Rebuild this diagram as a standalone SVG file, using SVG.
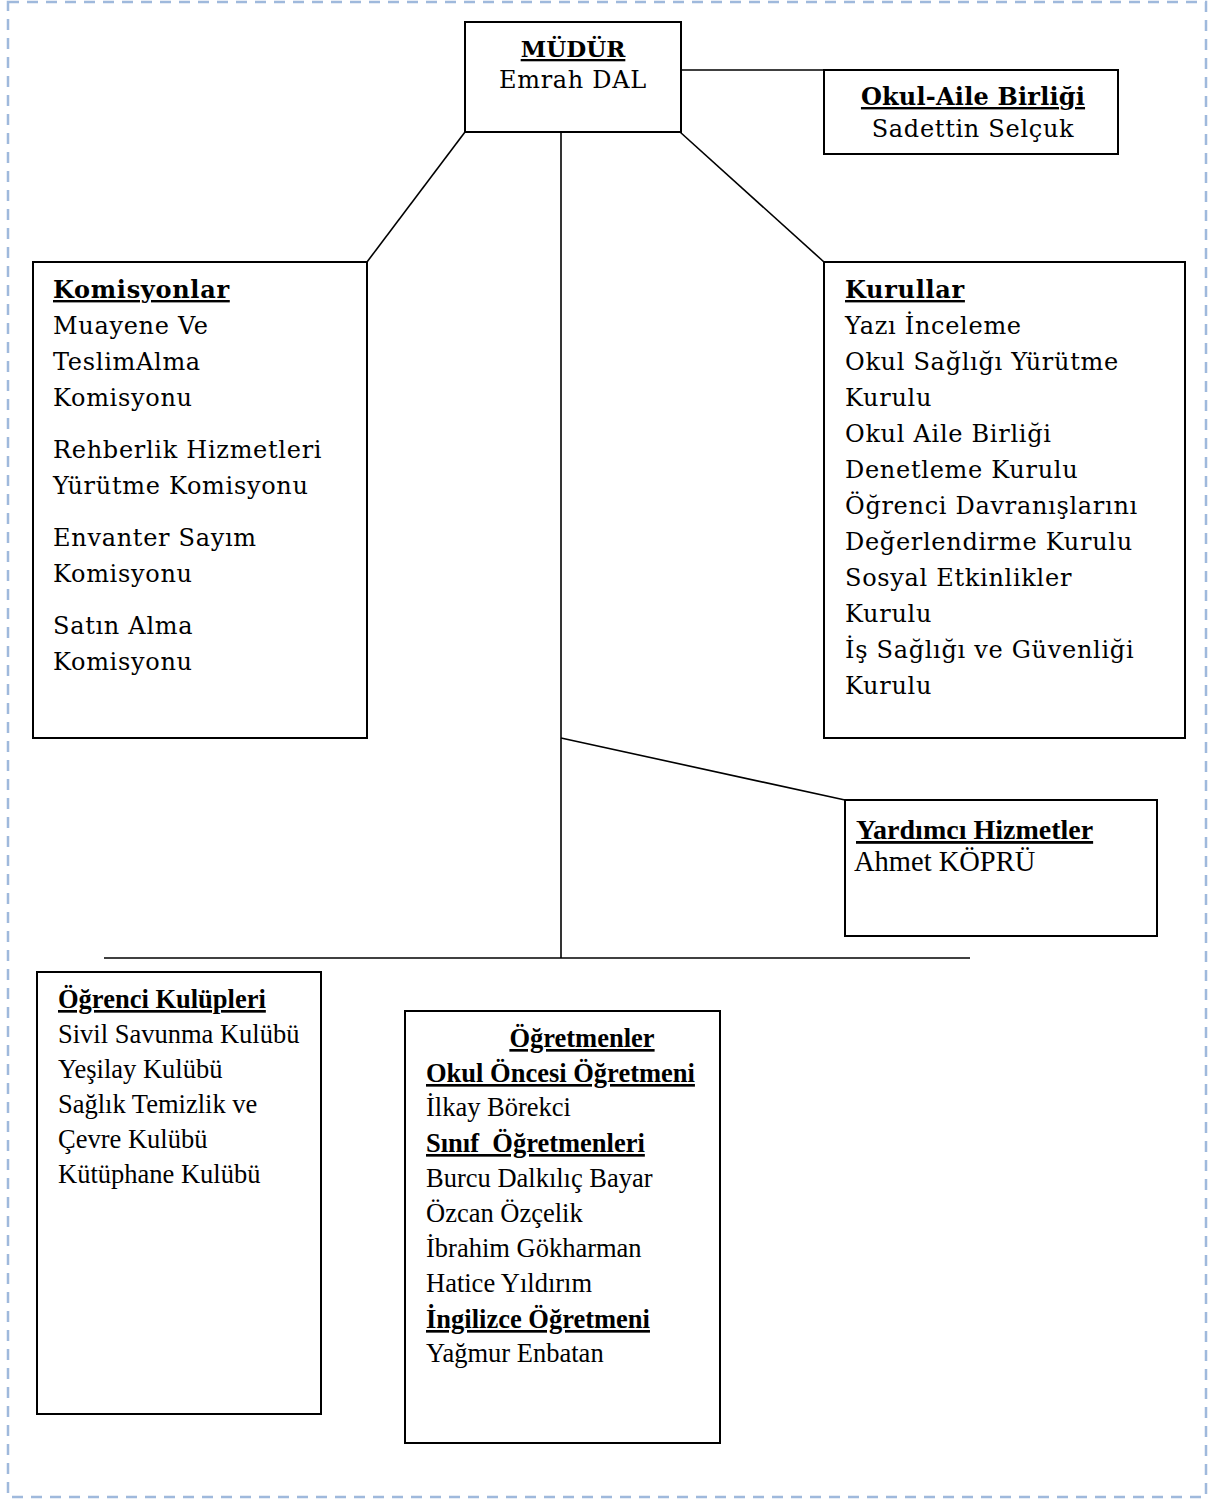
<svg xmlns="http://www.w3.org/2000/svg" width="1208" height="1499" viewBox="0 0 1208 1499">
<style>
.box{fill:#fff;stroke:#000;stroke-width:2}
.ln{stroke:#000;stroke-width:1.6;fill:none}
.bk{font-family:"DejaVu Serif","Liberation Serif",serif;font-size:24px;letter-spacing:0.7px;fill:#000}
.bkh{font-family:"DejaVu Serif","Liberation Serif",serif;font-size:24px;letter-spacing:0.7px;font-weight:bold;text-decoration:underline;fill:#000}
.tm{font-family:"Liberation Serif","Times New Roman",serif;font-size:26.5px;fill:#000}
.tmh{font-family:"Liberation Serif","Times New Roman",serif;font-size:26.5px;font-weight:bold;text-decoration:underline;fill:#000}
</style>
<rect x="8" y="2" width="1198" height="1495" fill="none" stroke="#9fb9dc" stroke-width="2.5" stroke-dasharray="11 8"/>
<g id="connectors">
<line class="ln" x1="681" y1="70" x2="824" y2="70"/>
<line class="ln" x1="465" y1="132" x2="367" y2="262"/>
<line class="ln" x1="680" y1="132" x2="824" y2="262"/>
<line class="ln" x1="561" y1="132" x2="561" y2="958"/>
<line class="ln" x1="561" y1="738" x2="845" y2="800"/>
<line class="ln" x1="104" y1="958" x2="970" y2="958"/>
</g>
<g id="mudur">
<rect class="box" x="465" y="22" width="216" height="110"/>
<text class="bkh" x="573" y="57" text-anchor="middle" style="font-size:23px;letter-spacing:0">MÜDÜR</text>
<text class="bk" x="573" y="88" text-anchor="middle">Emrah DAL</text>
</g>
<g id="okul-aile">
<rect class="box" x="824" y="70" width="294" height="84"/>
<text class="bkh" x="973" y="105" text-anchor="middle" style="letter-spacing:0.2px">Okul-Aile Birliği</text>
<text class="bk" x="973" y="137" text-anchor="middle">Sadettin Selçuk</text>
</g>
<g id="komisyonlar">
<rect class="box" x="33" y="262" width="334" height="476"/>
<text class="bkh" x="53" y="298">Komisyonlar</text>
<text class="bk" x="53" y="334">Muayene Ve</text>
<text class="bk" x="53" y="370">TeslimAlma</text>
<text class="bk" x="53" y="406">Komisyonu</text>
<text class="bk" x="53" y="458">Rehberlik Hizmetleri</text>
<text class="bk" x="53" y="494">Yürütme Komisyonu</text>
<text class="bk" x="53" y="546">Envanter Sayım</text>
<text class="bk" x="53" y="582">Komisyonu</text>
<text class="bk" x="53" y="634">Satın Alma</text>
<text class="bk" x="53" y="670">Komisyonu</text>
</g>
<g id="kurullar">
<rect class="box" x="824" y="262" width="361" height="476"/>
<text class="bkh" x="845" y="298">Kurullar</text>
<text class="bk" x="845" y="334">Yazı İnceleme</text>
<text class="bk" x="845" y="370">Okul Sağlığı Yürütme</text>
<text class="bk" x="845" y="406">Kurulu</text>
<text class="bk" x="845" y="442">Okul Aile Birliği</text>
<text class="bk" x="845" y="478">Denetleme Kurulu</text>
<text class="bk" x="845" y="514">Öğrenci Davranışlarını</text>
<text class="bk" x="845" y="550">Değerlendirme Kurulu</text>
<text class="bk" x="845" y="586">Sosyal Etkinlikler</text>
<text class="bk" x="845" y="622">Kurulu</text>
<text class="bk" x="845" y="658">İş Sağlığı ve Güvenliği</text>
<text class="bk" x="845" y="694">Kurulu</text>
</g>
<g id="yardimci">
<rect class="box" x="845" y="800" width="312" height="136"/>
<text class="tmh" x="856" y="839" style="font-size:28px">Yardımcı Hizmetler</text>
<text class="tm" x="854" y="871" style="font-size:28.5px">Ahmet KÖPRÜ</text>
</g>
<g id="ogrenci-kulupleri">
<rect class="box" x="37" y="972" width="284" height="442"/>
<text class="tmh" x="58" y="1008">Öğrenci Kulüpleri</text>
<text class="tm" x="58" y="1043">Sivil Savunma Kulübü</text>
<text class="tm" x="58" y="1078">Yeşilay Kulübü</text>
<text class="tm" x="58" y="1113">Sağlık Temizlik ve</text>
<text class="tm" x="58" y="1148">Çevre Kulübü</text>
<text class="tm" x="58" y="1183">Kütüphane Kulübü</text>
</g>
<g id="ogretmenler">
<rect class="box" x="405" y="1011" width="315" height="432"/>
<text class="tmh" x="582" y="1047" text-anchor="middle">Öğretmenler</text>
<text class="tmh" x="426" y="1082">Okul Öncesi Öğretmeni</text>
<text class="tm" x="426" y="1116">İlkay Börekci</text>
<text class="tmh" x="426" y="1152" xml:space="preserve">Sınıf  Öğretmenleri</text>
<text class="tm" x="426" y="1187">Burcu Dalkılıç Bayar</text>
<text class="tm" x="426" y="1222">Özcan Özçelik</text>
<text class="tm" x="426" y="1257">İbrahim Gökharman</text>
<text class="tm" x="426" y="1292">Hatice Yıldırım</text>
<text class="tmh" x="426" y="1328">İngilizce Öğretmeni</text>
<text class="tm" x="426" y="1362">Yağmur Enbatan</text>
</g>
</svg>
